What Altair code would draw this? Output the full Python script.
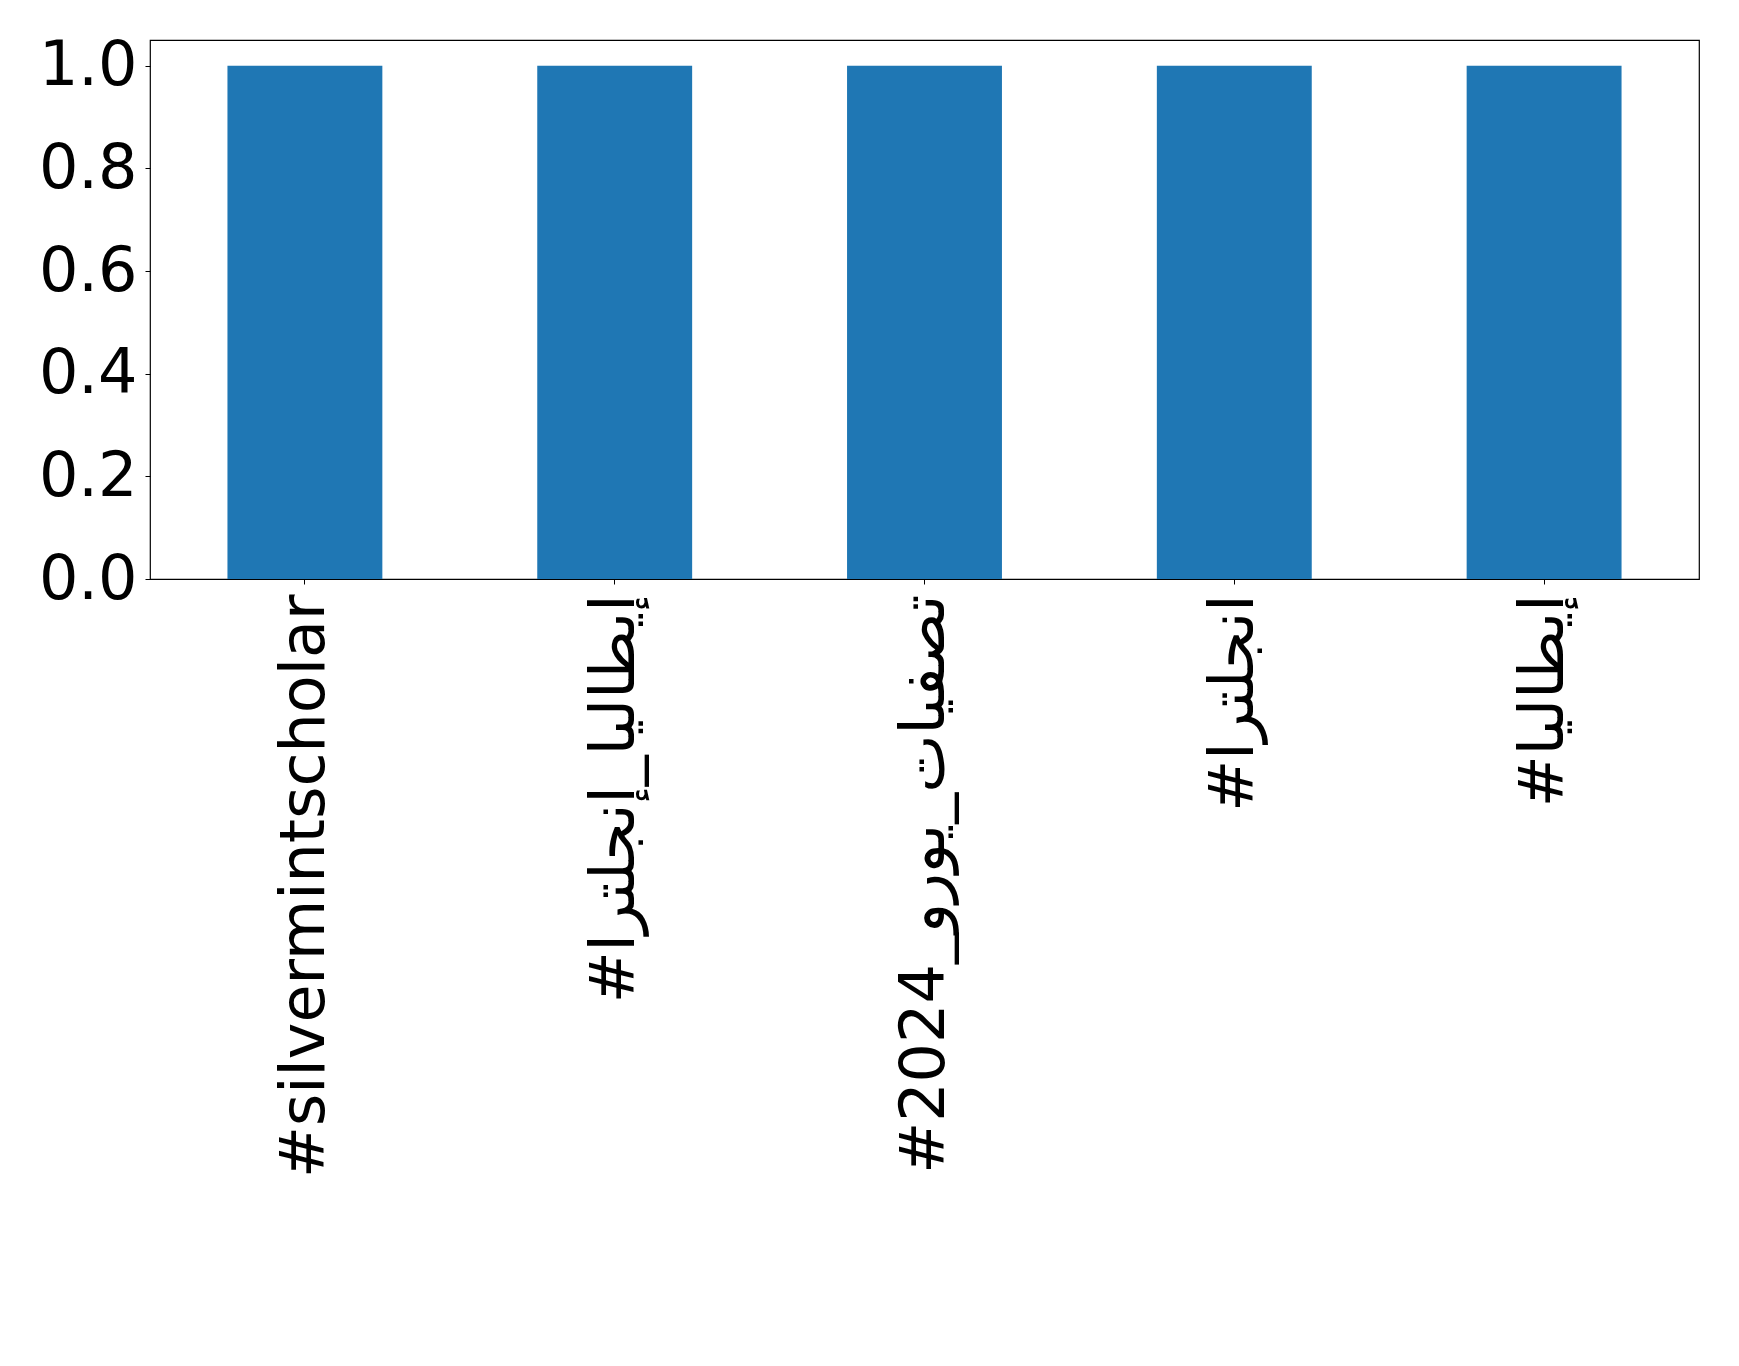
import altair as alt
import pandas as pd

hashtags = [
    "#silvermintscholar",
    "#إيطاليا_إنجلترا",
    "#تصفيات_يورو_2024",
    "#انجلترا",
    "#إيطاليا",
]
counts = [1, 1, 1, 1, 1]

df = pd.DataFrame({"hashtag": hashtags, "count": counts})

chart = (
    alt.Chart(df)
    .mark_bar(color="#1f77b4")
    .encode(
        x=alt.X(
            "hashtag:N",
            sort=hashtags,
            title=None,
            scale=alt.Scale(paddingInner=0.5, paddingOuter=0.25),
            axis=alt.Axis(
                labelAngle=-90,
                labelFontSize=62,
                labelFont="DejaVu Sans",
                labelColor="black",
                labelPadding=10,
                tickSize=5,
                tickColor="black",
                domain=False,
                labelLimit=0,
            ),
        ),
        y=alt.Y(
            "count:Q",
            title=None,
            scale=alt.Scale(domain=[0, 1.05], nice=False),
            axis=alt.Axis(
                values=[0, 0.2, 0.4, 0.6, 0.8, 1.0],
                format=".1f",
                labelFontSize=62,
                labelFont="DejaVu Sans",
                labelColor="black",
                labelPadding=8,
                tickSize=5,
                tickColor="black",
                grid=False,
                domain=False,
            ),
        ),
    )
    .properties(
        width=1549,
        height=539,
        autosize=alt.AutoSizeParams(type="none"),
        padding={"left": 142, "top": 32, "right": 32, "bottom": 780},
    )
    .configure(background="white")
    .configure_view(stroke="black", strokeWidth=1.2)
)

chart.save("out.html", embed_options={"renderer": "svg", "actions": False})
